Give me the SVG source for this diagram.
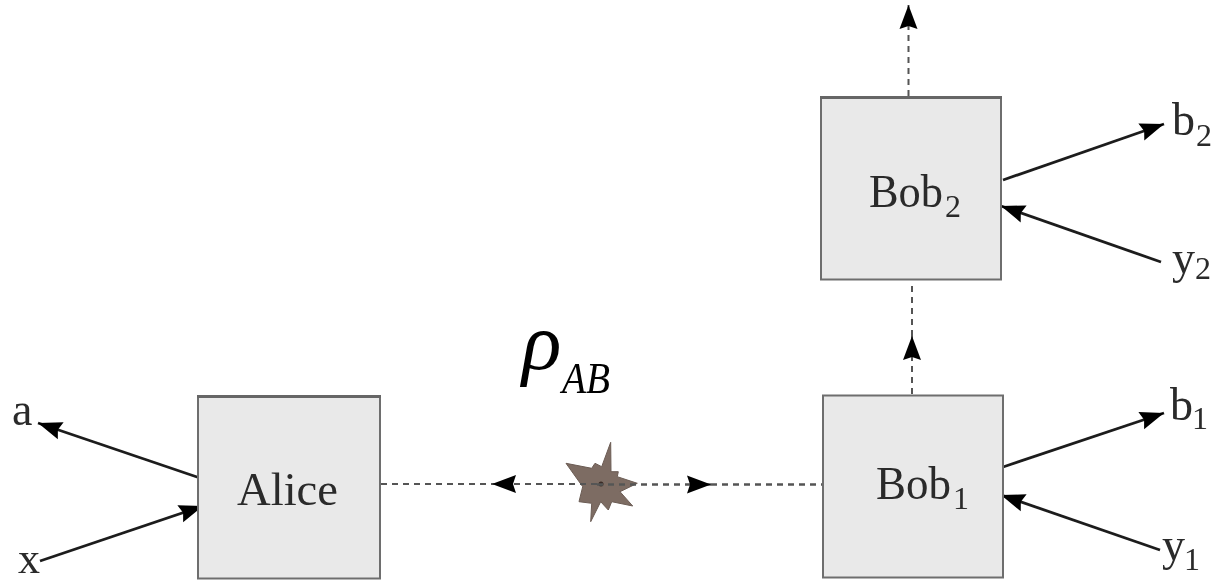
<svg xmlns="http://www.w3.org/2000/svg" width="1215" height="581" viewBox="0 0 1215 581">
<style>
.box{fill:#e9e9e9;stroke:#6e6e6e;stroke-width:2}
.top{stroke:#666;stroke-width:3;fill:none}
.t{font-family:"Liberation Serif","Times New Roman",serif;font-size:46px;fill:#2b2b2b}
.s{font-family:"Liberation Serif","Times New Roman",serif;font-size:32px;fill:#2b2b2b}
.solid{stroke:#1c1c1c;stroke-width:2.8;fill:none;marker-end:url(#ah)}
.dash{stroke:#555;stroke-width:2;stroke-dasharray:6 5;fill:none}
.dashm{stroke:#555;stroke-width:2;stroke-dasharray:6 5;fill:none;marker-end:url(#ah)}
.m{font-family:"Liberation Serif","Times New Roman",serif;font-style:italic;fill:#000}
</style>
<defs>
<marker id="ah" markerUnits="userSpaceOnUse" markerWidth="28" markerHeight="22" refX="25" refY="11" orient="auto">
<path d="M25 11 L1 2 L4 11 L1 20 Z" fill="#000"/>
</marker>
<filter id="soft" x="0" y="0" width="100%" height="100%"><feGaussianBlur stdDeviation="0.55"/></filter>
</defs>
<rect width="1215" height="581" fill="#fff"/>
<g filter="url(#soft)">
<g id="source">
<polygon points="610.7,442.3 611,471.7 618.3,471.7 617.3,476.7 637.3,483.3 620,491.7 632.7,506 611.7,501.7 608.3,510 600.7,501.7 590.7,521.7 591.7,503.3 579,501.7 582.7,486.7 566,463.3 591.7,468.3 595,463.3 601.7,466.7" fill="#7d6c63" stroke="#6b5c54" stroke-width="1"/>
<circle cx="601" cy="484" r="2.5" fill="#3a2c26"/>
</g>
<g id="connectors">
<line class="dash" x1="381" y1="484" x2="492" y2="484"/>
<line class="dashm" x1="597" y1="484" x2="492" y2="484"/>
<line class="dashm" x1="597" y1="484.500" x2="711" y2="484.500" style="stroke-width:2.6"/>
<line class="dash" x1="711" y1="484.500" x2="823" y2="484.500" style="stroke-width:2.4"/>
<line class="dashm" x1="912" y1="394" x2="912" y2="336"/>
<line class="dash" x1="912" y1="336" x2="912" y2="282"/>
<line class="dashm" x1="908.500" y1="96" x2="908.500" y2="5"/>
<line class="solid" x1="200" y1="478" x2="38" y2="423"/>
<line class="solid" x1="40" y1="561" x2="203" y2="506"/>
<line class="solid" x1="1003" y1="180" x2="1164" y2="124"/>
<line class="solid" x1="1161" y1="262" x2="1001" y2="206"/>
<line class="solid" x1="1003" y1="467" x2="1164" y2="413"/>
<line class="solid" x1="1160" y1="550" x2="1001" y2="495"/>
</g>
<g id="alice">
<rect class="box" x="198" y="396.500" width="182" height="182"/>
<line class="top" x1="197" y1="396.500" x2="381" y2="396.500"/>
<text class="t" x="237" y="505" textLength="101" lengthAdjust="spacingAndGlyphs">Alice</text>
</g>
<g id="bob2">
<rect class="box" x="821" y="97.500" width="180" height="182"/>
<line class="top" x1="820" y1="97.500" x2="1002" y2="97.500"/>
<text class="t" x="869" y="207" textLength="74" lengthAdjust="spacingAndGlyphs">Bob</text>
<text class="s" x="945" y="217">2</text>
</g>
<g id="bob1">
<rect class="box" x="823" y="395.500" width="180" height="182"/>
<text class="t" x="876" y="499" textLength="75" lengthAdjust="spacingAndGlyphs">Bob</text>
<text class="s" x="953" y="509">1</text>
</g>
<g id="labels">
<text class="t" x="12" y="425">a</text>
<text class="t" x="18" y="573" style="font-size:44px">x</text>
<text class="t" x="1172" y="135">b</text>
<text class="s" x="1196" y="146">2</text>
<text class="t" x="1172" y="273">y</text>
<text class="s" x="1195" y="279">2</text>
<text class="t" x="1170" y="420">b</text>
<text class="s" x="1192" y="429">1</text>
<text class="t" x="1162" y="560">y</text>
<text class="s" x="1184" y="570">1</text>
</g>
<g id="rho">
<text class="m" x="522" y="369" style="font-size:82px">ρ</text>
<text class="m" x="562" y="393" style="font-size:44px" textLength="48" lengthAdjust="spacingAndGlyphs">AB</text>
</g>
</g>
</svg>
